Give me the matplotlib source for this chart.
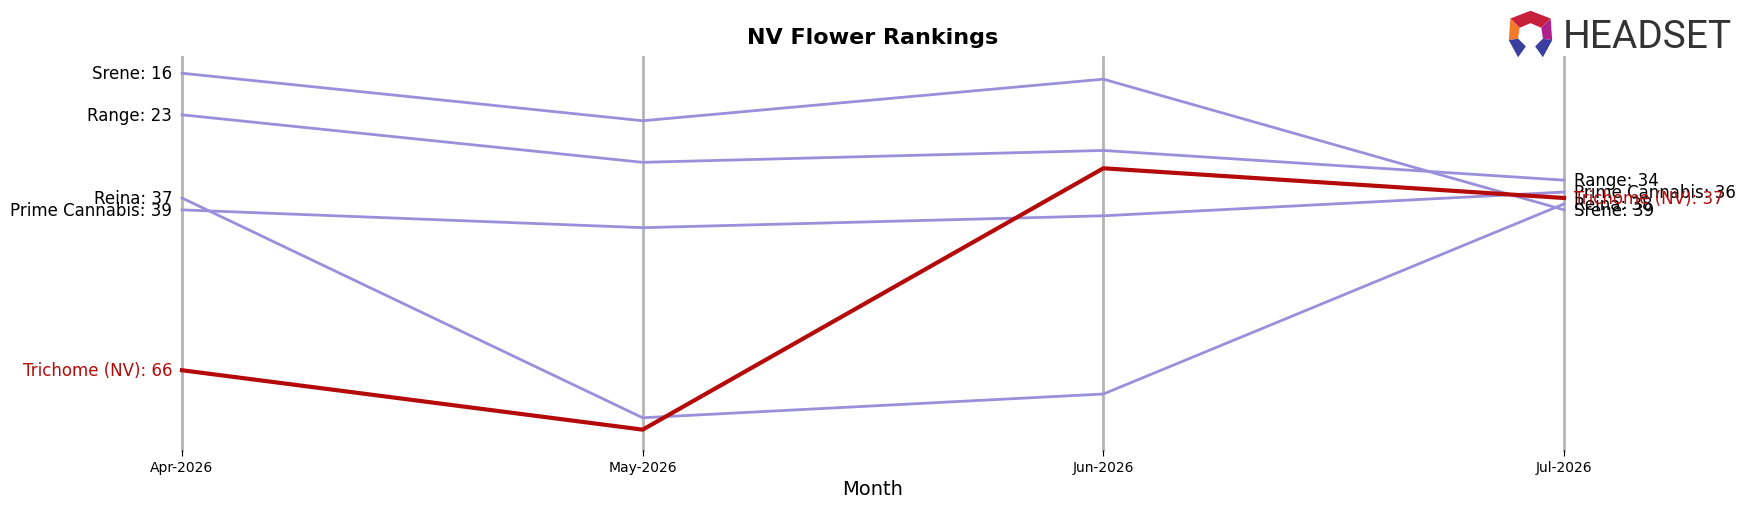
import matplotlib.pyplot as plt
from matplotlib.patches import Polygon

months = ["Apr-2026", "May-2026", "Jun-2026", "Jul-2026"]
brands = ["Srene", "Range", "Reina", "Prime Cannabis", "Trichome (NV)"]
srene = [16, 24, 17, 39]
range_ = [23, 31, 29, 34]
reina = [37, 74, 70, 38]
prime = [39, 42, 40, 36]
trichome = [66, 76, 32, 37]
ranks = [srene, range_, reina, prime, trichome]
highlight = "Trichome (NV)"

purple = "#9a8fdb"
red = "#b50a0a"

fig = plt.figure(figsize=(17.45, 5.06), dpi=100)
ax = fig.add_axes([0.1043, 0.109, 0.7920, 0.776])

x = list(range(len(months)))
for xi in x:
    ax.axvline(xi, color="#b4b4b4", lw=2, zorder=0, clip_on=False)

for name, vals in zip(brands, ranks):
    if name == highlight:
        continue
    ax.plot(x, vals, color=purple, lw=2, zorder=2, clip_on=False)
idx = brands.index(highlight)
ax.plot(x, ranks[idx], color=red, lw=3, zorder=3, clip_on=False)

# end labels
for name, vals in zip(brands, ranks):
    c = red if name == highlight else "black"
    ax.annotate(f"{name}: {vals[0]}", (x[0], vals[0]), xytext=(-7, 0),
                textcoords="offset points", ha="right", va="center",
                fontsize=12, color=c, annotation_clip=False)
    ax.annotate(f"{name}: {vals[-1]}", (x[-1], vals[-1]), xytext=(7, 0),
                textcoords="offset points", ha="left", va="center",
                fontsize=12, color=c, annotation_clip=False)

ax.set_xlim(0, len(months) - 1)
ax.set_ylim(79.4, 13.3)
ax.set_xticks(x)
ax.set_xticklabels(months, fontsize=10)
ax.tick_params(axis="x", length=4, pad=3)
ax.set_yticks([])
for s in ax.spines.values():
    s.set_visible(False)
ax.set_xlabel("Month", fontsize=14, labelpad=4)
ax.set_title("NV Flower Rankings", fontsize=16, fontweight="bold", pad=10)

# logo (pixel-ish coordinates inside a small corner axes)
lax = fig.add_axes([1500 / 1745, 1 - 70 / 506, 245 / 1745, 70 / 506])
lax.set_xlim(0, 245)
lax.set_ylim(0, 70)
lax.axis("off")

def icon_piece(pts, color, cx=30.5, cy=35, s=1.55):
    lax.add_patch(Polygon([(cx + px * s, cy + py * s) for px, py in pts], color=color, lw=0))

icon_piece([(-13, 10), (0, 15), (13, 10), (7, 4), (0, 7), (-7, 4)], "#c8203c")
icon_piece([(-13, 10), (-7, 4), (-8, -3), (-14, -4)], "#f07a2a")
icon_piece([(13, 10), (7, 4), (8, -3), (14, -4)], "#b0208a")
icon_piece([(-14, -4), (-8, -3), (-3, -8), (-8, -15)], "#3a3f9f")
icon_piece([(14, -4), (8, -3), (3, -8), (8, -15)], "#3a3f9f")

lax.text(63, 32, "HEADSET", fontsize=28, color="#333333", va="center", ha="left",
         family="Roboto")

fig.savefig("out.png", dpi=100)
